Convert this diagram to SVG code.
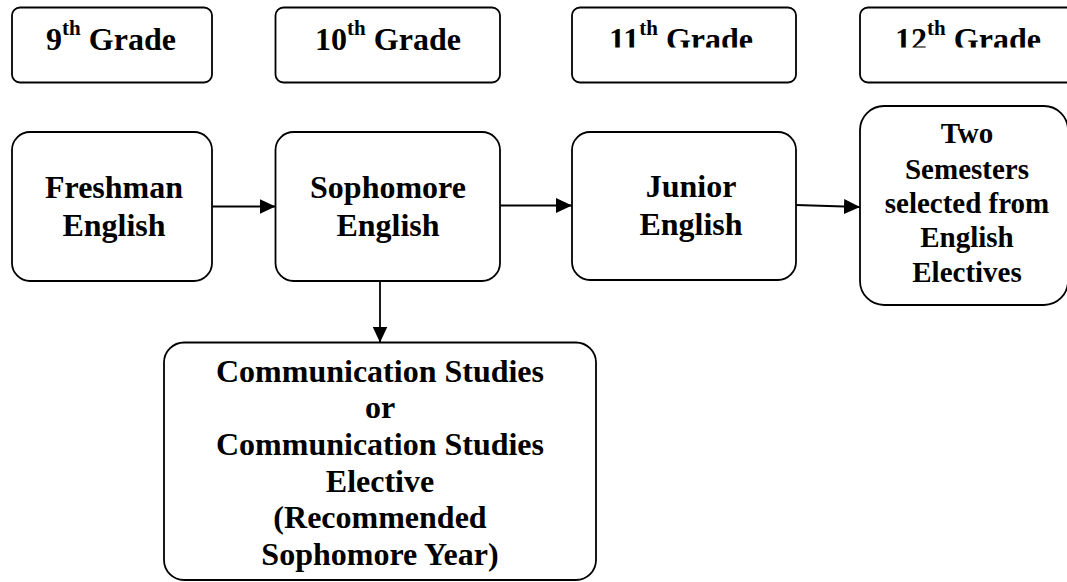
<svg xmlns="http://www.w3.org/2000/svg" width="1067" height="582" viewBox="0 0 1067 582">
<style>
.box{fill:#fff;stroke:#000;stroke-width:1.8}
.s{font-size:29px}
.sup{font-size:21px}
.con{stroke:#000;stroke-width:1.8;fill:none}
</style>
<defs>
<marker id="arr" markerUnits="userSpaceOnUse" markerWidth="16" markerHeight="15" refX="16" refY="7.5" orient="auto">
<path d="M0,0 L16,7.5 L0,15 z" fill="#000"/>
</marker>
<clipPath id="gclip"><rect x="0" y="0" width="1067" height="47.5"/></clipPath>
</defs>
<rect width="1067" height="582" fill="#fff"/>
<g font-family="Liberation Serif, Times New Roman, Times, serif" font-weight="bold" font-size="32" text-anchor="middle" fill="#000">
<g id="g9">
<rect class="box" x="12" y="7.5" width="200" height="75" rx="8"/>
<text x="111" y="50">9<tspan class="sup" dy="-15">th</tspan><tspan dy="15"> Grade</tspan></text>
</g>
<g id="g10">
<rect class="box" x="275.5" y="7.5" width="224.5" height="75" rx="8"/>
<text x="388" y="50">10<tspan class="sup" dy="-15">th</tspan><tspan dy="15"> Grade</tspan></text>
</g>
<g id="g11">
<rect class="box" x="572" y="7.5" width="224" height="75" rx="8"/>
<text x="681" y="50" clip-path="url(#gclip)">11<tspan class="sup" dy="-15">th</tspan><tspan dy="15"> Grade</tspan></text>
</g>
<g id="g12">
<rect class="box" x="860" y="7.5" width="220" height="75" rx="8"/>
<text x="968" y="50" clip-path="url(#gclip)">12<tspan class="sup" dy="-15">th</tspan><tspan dy="15"> Grade</tspan></text>
</g>
<g id="freshman">
<rect class="box" x="12" y="132" width="200" height="149" rx="18"/>
<text x="114" y="198">Freshman</text>
<text x="114" y="236">English</text>
</g>
<g id="sophomore">
<rect class="box" x="275.5" y="132" width="224.5" height="149" rx="18"/>
<text x="388" y="198">Sophomore</text>
<text x="388" y="236">English</text>
</g>
<g id="junior">
<rect class="box" x="572" y="132" width="224" height="148" rx="18"/>
<text x="691" y="197">Junior</text>
<text x="691" y="235">English</text>
</g>
<g id="twosem">
<rect class="box" x="860" y="106" width="208" height="199" rx="24"/>
<text class="s" x="967" y="143">Two</text>
<text class="s" x="967" y="179">Semesters</text>
<text class="s" x="967" y="213">selected from</text>
<text class="s" x="967" y="247">English</text>
<text class="s" x="967" y="282">Electives</text>
</g>
<g id="comm">
<rect class="box" x="164" y="342.5" width="432" height="237.5" rx="20"/>
<text x="380" y="381.5">Communication Studies</text>
<text x="380" y="418">or</text>
<text x="380" y="455">Communication Studies</text>
<text x="380" y="491.5">Elective</text>
<text x="380" y="528">(Recommended</text>
<text x="380" y="565">Sophomore Year)</text>
</g>
</g>
<g id="connectors">
<line class="con" x1="212" y1="206.5" x2="275.5" y2="206.5" marker-end="url(#arr)"/>
<line class="con" x1="500" y1="205.5" x2="572" y2="205.5" marker-end="url(#arr)"/>
<line class="con" x1="796" y1="205" x2="860" y2="207" marker-end="url(#arr)"/>
<line class="con" x1="380" y1="281" x2="380" y2="342.5" marker-end="url(#arr)"/>
</g>
</svg>
